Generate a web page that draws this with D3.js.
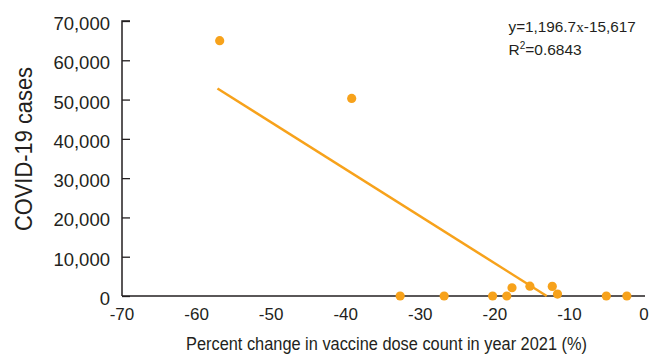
<!DOCTYPE html>
<html><head><meta charset="utf-8">
<script src="https://cdn.jsdelivr.net/npm/d3@7"></script>
<style>
html,body{margin:0;padding:0;background:#fff;}
svg{display:block;font-family:"Liberation Sans",Arial,Helvetica,sans-serif;}
</style></head>
<body><svg id="c" width="649" height="355"></svg>
<script>
const xValues = [-56.9, -39.2, -32.7, -26.8, -20.3, -18.4, -17.7, -15.3, -12.3, -11.6, -5.05, -2.3];
const yValues = [65000, 50300, 0, 0, 0, 0, 2100, 2500, 2450, 500, 0, 0];
const xTicks = [-70, -60, -50, -40, -30, -20, -10, 0];
const yTicks = [0, 10000, 20000, 30000, 40000, 50000, 60000, 70000];
const trendSlope = -1196.7;
const trendIntercept = -15617;
const trendStartX = -57.2;
const equationText = ["y=1,196.7", "x", "-15,617"];
const r2Text = "0.6843";
const xTitle = "Percent change in vaccine dose count in year 2021 (%)";
const yTitle = "COVID-19 cases";

const svg = d3.select("#c");
const orange = "#F7A21B", dark = "#231f20";
const x = d3.scaleLinear().domain([-70, 0]).range([122, 644]);
const y = d3.scaleLinear().domain([0, 70000]).range([296, 21]);

// y axis
const yAxis = svg.append("g").attr("transform", "translate(122,0)")
  .call(d3.axisRight(y).tickValues(yTicks).tickSize(8).tickFormat(""));
yAxis.select(".domain").attr("d", `M8,${y(70000)}H0V${y(0)}`).attr("stroke", dark).attr("stroke-width", 1.5);
yAxis.selectAll(".tick line").attr("stroke", dark).attr("stroke-width", 1.3);
svg.append("g").selectAll("text").data(yTicks).join("text")
  .attr("x", 110).attr("y", d => y(d) + 9)
  .attr("text-anchor", "end").attr("font-size", 18.5).attr("fill", dark)
  .text(d => d3.format(",")(d));

// x axis
const xAxis = svg.append("g").attr("transform", `translate(0,${y(0)})`)
  .call(d3.axisBottom(x).tickValues(xTicks).tickSize(0).tickFormat(""));
xAxis.select(".domain").attr("d", `M${x(-70)},0H${x(0)+1}`).attr("stroke", dark).attr("stroke-width", 1.5);
svg.append("g").selectAll("text").data(xTicks).join("text")
  .attr("x", d => x(d)).attr("y", y(0) + 24)
  .attr("text-anchor", "middle").attr("font-size", 17).attr("fill", dark)
  .text(d => d);

// titles
svg.append("text").attr("x", 386.5).attr("y", 349.5).attr("text-anchor", "middle")
  .attr("font-size", 17.5).attr("fill", dark)
  .attr("textLength", 401).attr("lengthAdjust", "spacingAndGlyphs").text(xTitle);
svg.append("text").attr("transform", "translate(31.5,149) rotate(-90)").attr("text-anchor", "middle")
  .attr("font-size", 23).attr("fill", dark)
  .attr("textLength", 164).attr("lengthAdjust", "spacingAndGlyphs").text(yTitle);

// trendline
const trendEndX = -trendIntercept / trendSlope;
const line = d3.line().x(d => x(d)).y(d => y(trendSlope * d + trendIntercept));
svg.append("path").datum([trendStartX, trendEndX]).attr("d", line)
  .attr("fill", "none").attr("stroke", orange).attr("stroke-width", 2.5);

// points
svg.append("g").selectAll("circle").data(xValues.map((v, i) => [v, yValues[i]])).join("circle")
  .attr("cx", d => x(d[0])).attr("cy", d => y(d[1])).attr("r", 4.6).attr("fill", orange);

// equation
const eq = svg.append("text").attr("x", 508.5).attr("y", 31.5).attr("font-size", 15.3).attr("fill", dark);
eq.append("tspan").text(equationText[0]);
eq.append("tspan").attr("font-family", "'Liberation Serif','Times New Roman',serif").text(equationText[1]);
eq.append("tspan").text(equationText[2]);
const r2 = svg.append("text").attr("x", 508.5).attr("y", 55).attr("font-size", 15.5).attr("fill", dark);
r2.append("tspan").text("R");
r2.append("tspan").attr("font-size", 10).attr("dy", -6).text("2");
r2.append("tspan").attr("dy", 6).text("=" + r2Text);
</script></body></html>
